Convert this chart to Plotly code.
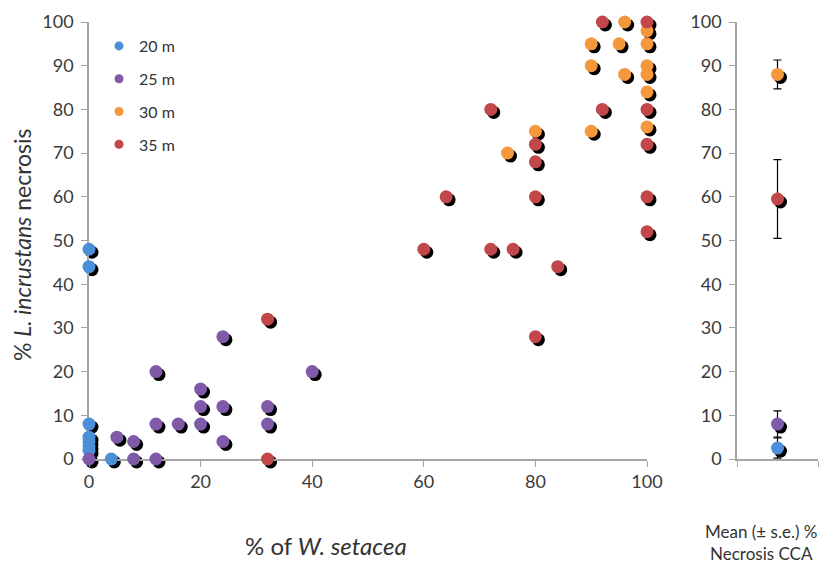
import plotly.graph_objects as go

W, H = 833, 568
OFF = 8  # page body margin in the browser

depths = ["20 m", "25 m", "30 m", "35 m"]
colors = ["#4a8fd8", "#7e5aa8", "#f5973b", "#c2474b"]

x20 = [0, 0, 0, 0, 0, 0, 0, 4]
y20 = [48, 44, 8, 5, 4, 3, 2, 0]

x25 = [0, 5, 8, 8, 12, 12, 12, 16, 20, 20, 20, 24, 24, 24, 32, 32, 40]
y25 = [0, 5, 4, 0, 0, 20, 8, 8, 8, 12, 16, 12, 4, 28, 12, 8, 20]

x30 = [75, 80, 90, 90, 90, 95, 96, 96, 100, 100, 100, 100, 100, 100]
y30 = [70, 75, 75, 90, 95, 95, 100, 88, 98, 95, 90, 88, 84, 76]

x35 = [32, 32, 60, 64, 72, 72, 76, 80, 80, 80, 80, 84, 92, 92, 100, 100, 100, 100, 100]
y35 = [32, 0, 48, 60, 80, 48, 48, 72, 68, 60, 28, 44, 100, 80, 100, 80, 72, 60, 52]

mean_vals = [2.5, 8, 88, 59.5]
mean_se = [2.3, 3, 3.3, 9]

y_ticks = [0, 10, 20, 30, 40, 50, 60, 70, 80, 90, 100]
x_ticks = [0, 20, 40, 60, 80, 100]

series_x = [x20, x25, x30, x35]
series_y = [y20, y25, y30, y35]


def fx(px):
    return (px - OFF) / W


def fy(py):
    return 1 - (py - OFF) / H


# target pixel geometry (screenshot coordinates)
L, R = 89, 647
L2, R2 = 737, 818
TOP, BOT = 22, 459
MS = 13
SH = 3  # shadow offset in px

xdom = [fx(L), fx(R)]
x2dom = [fx(L2), fx(R2)]
ydom = [fy(BOT), fy(TOP)]
xdom_s = [fx(L + SH), fx(R + SH)]
x2dom_s = [fx(L2 + SH), fx(R2 + SH)]
ydom_s = [fy(BOT + SH), fy(TOP + SH)]

fig = go.Figure()

# shadows (drawn first -> underneath)
for xs, ys in zip(series_x, series_y):
    fig.add_trace(go.Scatter(
        x=xs, y=ys, mode="markers", marker=dict(size=MS, color="black"),
        showlegend=False, hoverinfo="skip", cliponaxis=False, xaxis="x", yaxis="y"))
fig.add_trace(go.Scatter(
    x=[1] * len(mean_vals), y=mean_vals, mode="markers",
    marker=dict(size=MS, color="black"), showlegend=False, hoverinfo="skip",
    cliponaxis=False, xaxis="x2", yaxis="y2"))

# coloured points
for name, c, xs, ys in zip(depths, colors, series_x, series_y):
    fig.add_trace(go.Scatter(
        x=xs, y=ys, mode="markers", name=name, showlegend=False,
        marker=dict(size=MS, color=c), cliponaxis=False, xaxis="x3", yaxis="y3"))

for c, m, se in zip(colors, mean_vals, mean_se):
    fig.add_trace(go.Scatter(
        x=[1], y=[m], mode="markers", showlegend=False,
        error_y=dict(type="data", array=[se], color="black", thickness=1.2, width=4),
        marker=dict(size=MS, color=c), cliponaxis=False,
        xaxis="x4", yaxis="y4"))

# legend entries
for name, c in zip(depths, colors):
    fig.add_trace(go.Scatter(
        x=[None], y=[None], mode="markers", name=name, legendgroup=name,
        marker=dict(size=9, color=c), xaxis="x3", yaxis="y3"))

axis_common = dict(showgrid=False, zeroline=False, showline=True, linecolor="#a6a6a6",
                   linewidth=1.5, ticks="outside", ticklen=6, tickcolor="#a6a6a6",
                   automargin=False, layer="below traces",
                   tickfont=dict(size=18, color="#3a3a3a", family="Lato"))
hidden = dict(visible=False, automargin=False)

fig.update_layout(
    width=W, height=H, margin=dict(l=0, r=0, t=0, b=0, autoexpand=False),
    paper_bgcolor="white", plot_bgcolor="rgba(0,0,0,0)",
    font=dict(family="Lato", color="#333333"),
    xaxis=dict(domain=xdom_s, range=[0, 100], anchor="y", **hidden),
    yaxis=dict(domain=ydom_s, range=[0, 100], anchor="x", **hidden),
    xaxis2=dict(domain=x2dom_s, range=[0, 2], anchor="y2", **hidden),
    yaxis2=dict(domain=ydom_s, range=[0, 100], anchor="x2", **hidden),
    xaxis3=dict(domain=xdom, range=[0, 100], tickvals=x_ticks, anchor="y3", **axis_common),
    yaxis3=dict(domain=ydom, range=[0, 100], tickvals=y_ticks, anchor="x3",
                ticklabelstandoff=4, **axis_common),
    xaxis4=dict(domain=x2dom, range=[0, 2], tickvals=[0, 2], showticklabels=False,
                anchor="y4", **axis_common),
    yaxis4=dict(domain=ydom, range=[0, 100], tickvals=y_ticks, anchor="x4",
                ticklabelstandoff=4, **axis_common),
    showlegend=True,
    legend=dict(x=fx(99), y=fy(29), xanchor="left", yanchor="top",
                font=dict(size=16, color="#333333", family="Lato"),
                itemsizing="trace", tracegroupgap=9, bgcolor="rgba(0,0,0,0)"),
    annotations=[
        dict(text="% <i>L. incrustans</i> necrosis", xref="paper", yref="paper",
             x=fx(22), y=fy(245), textangle=-90, showarrow=False,
             xanchor="center", yanchor="middle",
             font=dict(size=23, color="#333333", family="Lato")),
        dict(text="% of <i>W. setacea</i>", xref="paper", yref="paper",
             x=fx(326), y=fy(545), showarrow=False,
             xanchor="center", yanchor="middle",
             font=dict(size=24, color="#333333", family="Lato")),
        dict(text="Mean (± s.e.) %<br>Necrosis CCA", xref="paper", yref="paper",
             x=fx(761), y=fy(542), showarrow=False, align="center",
             xanchor="center", yanchor="middle",
             font=dict(size=17, color="#333333", family="Lato")),
    ],
)

fig.write_html("out.html")
